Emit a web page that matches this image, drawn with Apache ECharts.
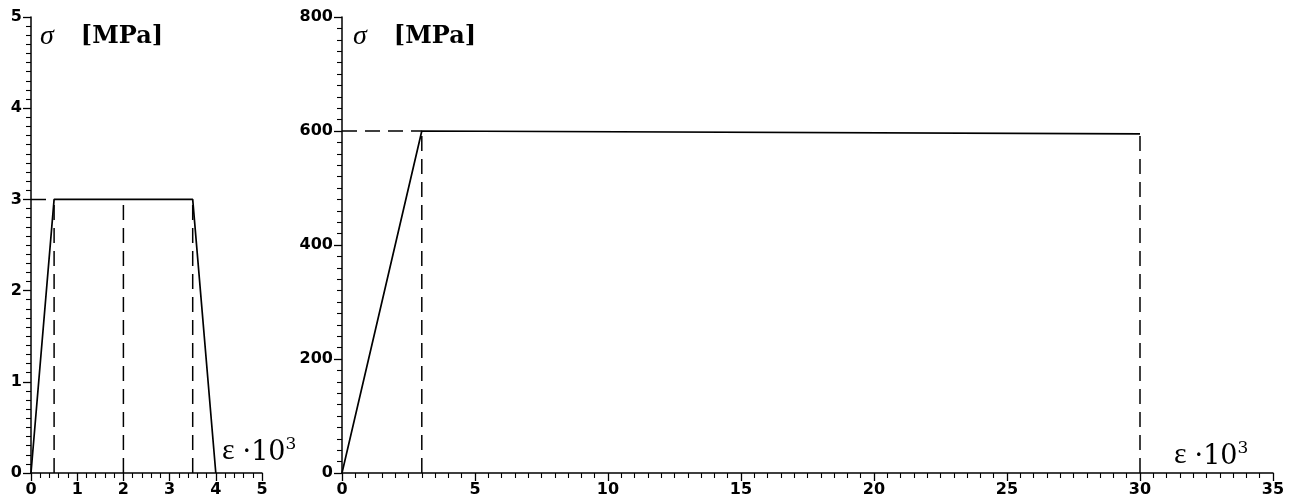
<!DOCTYPE html>
<html>
<head>
<meta charset="utf-8">
<script src="https://cdn.jsdelivr.net/npm/echarts@6/dist/echarts.min.js"></script>
<style>
html,body{margin:0;padding:0;background:#fff;}
#main{width:1289px;height:503px;}
</style>
</head>
<body>
<div id="main"></div>
<script>
// ---- data (strain ·10^3, stress MPa) ----
const leftStrain = [0, 0.5, 3.5, 4];
const leftStress = [0, 3, 3, 0];
const leftGuideX = [0.5, 2, 3.5];      // dashed verticals up to 3 MPa
const leftGuideLevel = 3;
const rightStrain = [0, 3, 30];
const rightStress = [0, 600, 595];
const rightGuideX = [3, 30];           // dashed verticals
const rightGuideLevel = [600, 595];
const leftXTicks = [0, 1, 2, 3, 4, 5];
const leftYTicks = [0, 1, 2, 3, 4, 5];
const rightXTicks = [0, 5, 10, 15, 20, 25, 30, 35];
const rightYTicks = [0, 200, 400, 600, 800];

const chart = echarts.init(document.getElementById('main'), null, {renderer: 'canvas'});

const ink = '#000';
const dash = [15, 8];
const labelFont = {color: ink, fontFamily: 'DejaVu Sans', fontSize: 16, fontWeight: 'bold'};

function axisCommon(extra) {
  return Object.assign({
    axisLine: {show: true, onZero: false, lineStyle: {color: ink, width: 1.5}},
    axisTick: {show: true, length: 8, lineStyle: {color: ink, width: 1.3}},
    splitLine: {show: false},
    minorSplitLine: {show: false}
  }, extra);
}

function line(xs, ys, xi, yi, dashed) {
  return {
    type: 'line', xAxisIndex: xi, yAxisIndex: yi, symbol: 'none', silent: true,
    animation: false,
    lineStyle: {color: ink, width: dashed ? 1.5 : 1.7, type: dashed ? dash : 'solid'},
    data: xs.map((x, i) => [x, ys[i]])
  };
}

const series = [];
series.push(line(leftStrain, leftStress, 0, 0, false));
leftGuideX.forEach(x => series.push(line([x, x], [0, leftGuideLevel], 0, 0, true)));
series.push(line([0, leftGuideX[0]], [leftGuideLevel, leftGuideLevel], 0, 0, true));
series.push(line(rightStrain, rightStress, 1, 1, false));
rightGuideX.forEach((x, i) => series.push(line([x, x], [0, rightGuideLevel[i]], 1, 1, true)));
series.push(line([0, rightGuideX[0]], [rightGuideLevel[0], rightGuideLevel[0]], 1, 1, true));

const labelRich = {
  s: {fontFamily: 'Liberation Serif', fontStyle: 'italic', fontSize: 28, color: ink},
  g: {width: 27},
  b: {fontFamily: 'DejaVu Serif', fontWeight: 'bold', fontSize: 24, color: ink}
};
const epsRich = {
  e: {fontFamily: 'Liberation Serif', fontSize: 30, color: ink, verticalAlign: 'bottom', lineHeight: 30},
  g: {width: 8},
  n: {fontFamily: 'DejaVu Serif', fontSize: 27, color: ink, verticalAlign: 'bottom', lineHeight: 30},
  p: {fontFamily: 'DejaVu Serif', fontSize: 17, color: ink, verticalAlign: 'top', lineHeight: 17}
};
const minor = n => ({show: true, splitNumber: n, length: 5, lineStyle: {color: ink, width: 1.1}});

const option = {
  backgroundColor: '#fff',
  animation: false,
  grid: [
    {left: 31, top: 17, width: 231, height: 456, containLabel: false},
    {left: 342, top: 17, width: 931, height: 456, containLabel: false}
  ],
  xAxis: [
    axisCommon({type: 'value', gridIndex: 0, min: leftXTicks[0], max: leftXTicks[leftXTicks.length - 1], interval: 1,
      minorTick: minor(5), axisLabel: Object.assign({margin: 9}, labelFont)}),
    axisCommon({type: 'value', gridIndex: 1, min: rightXTicks[0], max: rightXTicks[rightXTicks.length - 1], interval: 5,
      minorTick: minor(10), axisLabel: Object.assign({margin: 9}, labelFont)})
  ],
  yAxis: [
    axisCommon({type: 'value', gridIndex: 0, min: leftYTicks[0], max: leftYTicks[leftYTicks.length - 1], interval: 1,
      minorTick: minor(10), axisLabel: Object.assign({margin: 9}, labelFont)}),
    axisCommon({type: 'value', gridIndex: 1, min: rightYTicks[0], max: rightYTicks[rightYTicks.length - 1], interval: 200,
      minorTick: minor(10), axisLabel: Object.assign({margin: 9}, labelFont)})
  ],
  graphic: [
    {type: 'text', x: 40, y: 37, silent: true,
      style: {text: '{s|σ}{g|}{b|[MPa]}', rich: labelRich, verticalAlign: 'middle', align: 'left'}},
    {type: 'text', x: 353, y: 37, silent: true,
      style: {text: '{s|σ}{g|}{b|[MPa]}', rich: labelRich, verticalAlign: 'middle', align: 'left'}},
    {type: 'text', x: 222, y: 451, silent: true,
      style: {text: '{e|ε}{g|}{n|·10}{p|3}', rich: epsRich, verticalAlign: 'middle', align: 'left'}},
    {type: 'text', x: 1174, y: 455, silent: true,
      style: {text: '{e|ε}{g|}{n|·10}{p|3}', rich: epsRich, verticalAlign: 'middle', align: 'left'}}
  ],
  series: series
};
chart.setOption(option);
</script>
</body>
</html>
